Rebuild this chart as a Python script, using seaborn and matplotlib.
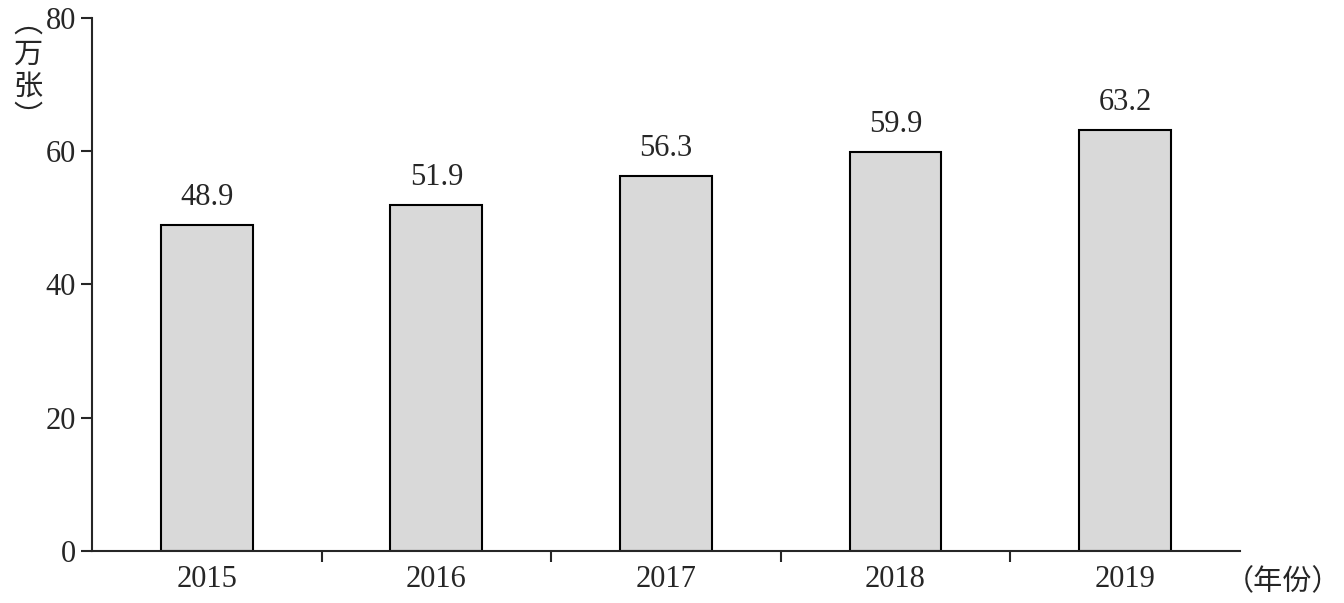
import matplotlib
matplotlib.use("Agg")
import matplotlib.pyplot as plt
import seaborn as sns
import pandas as pd

years = ["2015", "2016", "2017", "2018", "2019"]
values = [48.9, 51.9, 56.3, 59.9, 63.2]

sns.set_style("ticks")
plt.rcParams['font.family'] = ['Liberation Serif', 'Noto Sans CJK SC']

fig = plt.figure(figsize=(13.44, 6.03), dpi=100)
ax = fig.add_axes([0.0685, 0.0862, 0.854, 0.884])
df = pd.DataFrame({"year": years, "v": values})
sns.barplot(data=df, x="year", y="v", color="#d9d9d9", edgecolor="black",
            linewidth=1.5, width=0.4, saturation=1, ax=ax)
for i, v in enumerate(values):
    ax.text(i, v + 2.0, f"{v}", ha="center", va="bottom", fontsize=22)
ax.set_xlim(-0.5, 4.5)
ax.set_ylim(0, 80)
ax.set_yticks([0, 20, 40, 60, 80])
ax.set_xticks([-0.5 + k for k in range(1, 5)], minor=False)
ax.set_xticklabels([""] * 4)
ax.set_xticks(range(5), minor=True)
ax.set_xticklabels(years, minor=True)
ax.tick_params(axis="x", which="minor", length=0, labelsize=22, pad=10)
ax.tick_params(axis="x", which="major", length=8, width=1.5, direction="out")
ax.tick_params(axis="y", labelsize=22, length=8, width=1.5, direction="out")
ax.set_xlabel("")
ax.set_ylabel("")
for s in ["top", "right"]:
    ax.spines[s].set_visible(False)
for s in ["left", "bottom"]:
    ax.spines[s].set_linewidth(1.5)
fig.text(0.010, 0.985, "︵\n万\n张\n︶", ha="left", va="top", fontsize=21,
         family=["Noto Sans CJK SC"], linespacing=1.05)
fig.text(0.998, 0.035, "（年份）", ha="right", va="center", fontsize=21,
         family=["Noto Sans CJK SC"])
fig.savefig("out.png", dpi=100)
